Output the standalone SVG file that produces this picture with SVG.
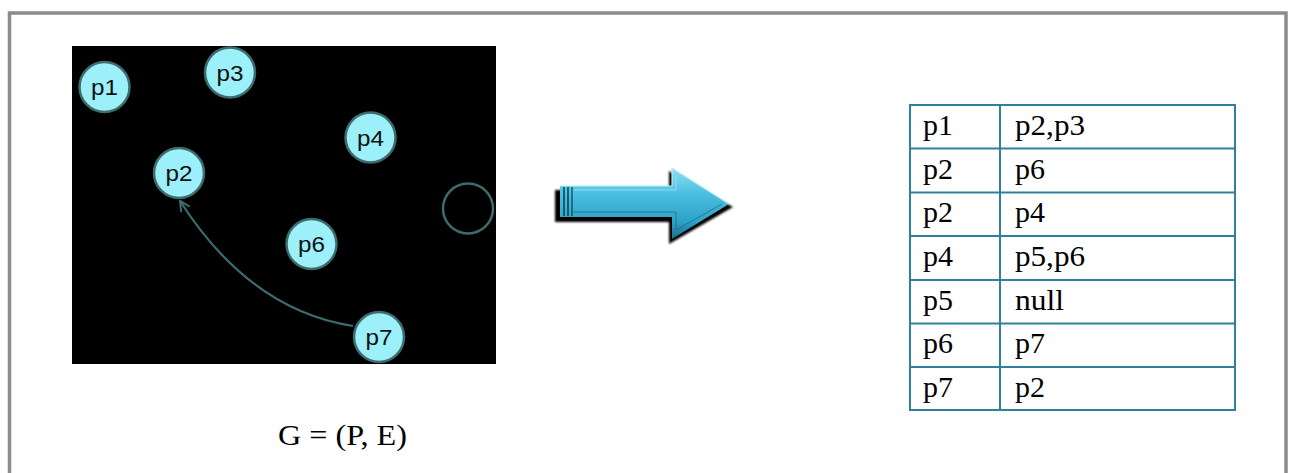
<svg xmlns="http://www.w3.org/2000/svg" width="1291" height="473" viewBox="0 0 1291 473">
<defs>
<style>
.node circle{fill:#9cf0fa;stroke:#3e6b6e;stroke-width:2.5}
.node text{font-family:"Liberation Sans",Arial,sans-serif;font-size:22px;fill:#111;text-anchor:middle}
.tl{stroke:#2f8099;stroke-width:2;fill:none}
.tt{font-family:"Liberation Serif","Times New Roman",serif;font-size:29px;fill:#000}
.edge{fill:none;stroke:#3e6b6e;stroke-width:2.2}
</style>
<marker id="chev" viewBox="0 0 12 12" refX="11" refY="6" markerWidth="12" markerHeight="12" markerUnits="userSpaceOnUse" orient="auto">
<path d="M1 1 L11 6 L1 11" fill="none" stroke="#3e6b6e" stroke-width="2"/>
</marker>
<linearGradient id="ag" x1="0" y1="0" x2="0" y2="1">
<stop offset="0" stop-color="#8ee0f4"/>
<stop offset="0.35" stop-color="#4cc0e0"/>
<stop offset="0.75" stop-color="#2ea3c8"/>
<stop offset="1" stop-color="#1c6f8c"/>
</linearGradient>
<filter id="blur" x="-10%" y="-20%" width="120%" height="140%"><feGaussianBlur stdDeviation="1.2"/></filter>
</defs>
<rect x="9.5" y="13" width="1276.5" height="520" fill="#fff" stroke="#8c8c8c" stroke-width="3.5"/>
<rect x="72" y="46" width="424" height="318" fill="#000"/>
<g id="connectors">
<path class="edge" d="M353 326 Q250 310 180 201" marker-end="url(#chev)"/>
</g>
<g id="p1" class="node"><circle cx="104.5" cy="87" r="25"/><text x="104.5" y="95" textLength="27" lengthAdjust="spacingAndGlyphs">p1</text></g>
<g id="p3" class="node"><circle cx="230" cy="72.5" r="25"/><text x="230" y="80.5" textLength="27" lengthAdjust="spacingAndGlyphs">p3</text></g>
<g id="p4" class="node"><circle cx="370.5" cy="137.5" r="25"/><text x="370.5" y="145.5" textLength="27" lengthAdjust="spacingAndGlyphs">p4</text></g>
<g id="p2" class="node"><circle cx="179" cy="173" r="25"/><text x="179" y="181" textLength="27" lengthAdjust="spacingAndGlyphs">p2</text></g>
<g id="p6" class="node"><circle cx="311.5" cy="244" r="25"/><text x="311.5" y="252" textLength="27" lengthAdjust="spacingAndGlyphs">p6</text></g>
<g id="p7" class="node"><circle cx="379" cy="337" r="25"/><text x="379" y="345" textLength="27" lengthAdjust="spacingAndGlyphs">p7</text></g>
<g id="p5"><circle cx="468" cy="208.5" r="25" fill="none" stroke="#3e6b6e" stroke-width="2.5"/></g>
<g id="bigarrow">
<path d="M555 190 H669 V171 L733 207 L669 244 V222 H555 Z" fill="#000" filter="url(#blur)"/>
<path d="M560 186 H672 V168 L729 204 L672 239 V217 H560 Z" fill="url(#ag)"/>
<path d="M560 186 H672 V168 L729 204" fill="none" stroke="#b5ecfa" stroke-width="1.2"/>
<path d="M573 190 H676 V177" fill="none" stroke="#a8e6f6" stroke-width="1" opacity="0.7"/>
<path d="M573 212 H676 V230 L722 204" fill="none" stroke="#1a6b88" stroke-width="1" opacity="0.8"/>
<line x1="564" y1="187" x2="564" y2="216" stroke="#0e3c4e" stroke-width="1.5"/>
<line x1="568" y1="187" x2="568" y2="216" stroke="#0e3c4e" stroke-width="1.5"/>
<line x1="572" y1="187" x2="572" y2="216" stroke="#0e3c4e" stroke-width="1.2"/>
</g>
<g id="graph-label"><text x="278" y="445" font-family="'Liberation Serif','Times New Roman',serif" font-size="30" textLength="129" lengthAdjust="spacingAndGlyphs">G = (P, E)</text></g>
<g id="table">
<rect class="tl" x="910" y="105" width="325" height="305"/>
<line class="tl" x1="1000" y1="105" x2="1000" y2="410"/>
<line class="tl" x1="910" y1="148.5" x2="1235" y2="148.5"/>
<line class="tl" x1="910" y1="192.5" x2="1235" y2="192.5"/>
<line class="tl" x1="910" y1="236" x2="1235" y2="236"/>
<line class="tl" x1="910" y1="280" x2="1235" y2="280"/>
<line class="tl" x1="910" y1="323.5" x2="1235" y2="323.5"/>
<line class="tl" x1="910" y1="367" x2="1235" y2="367"/>
<text class="tt" x="923" y="135" textLength="30" lengthAdjust="spacingAndGlyphs">p1</text>
<text class="tt" x="1015" y="135" textLength="70" lengthAdjust="spacingAndGlyphs">p2,p3</text>
<text class="tt" x="923" y="178.5" textLength="30" lengthAdjust="spacingAndGlyphs">p2</text>
<text class="tt" x="1015" y="178.5" textLength="30" lengthAdjust="spacingAndGlyphs">p6</text>
<text class="tt" x="923" y="222" textLength="30" lengthAdjust="spacingAndGlyphs">p2</text>
<text class="tt" x="1015" y="222" textLength="30" lengthAdjust="spacingAndGlyphs">p4</text>
<text class="tt" x="923" y="266" textLength="30" lengthAdjust="spacingAndGlyphs">p4</text>
<text class="tt" x="1015" y="266" textLength="70" lengthAdjust="spacingAndGlyphs">p5,p6</text>
<text class="tt" x="923" y="309.5" textLength="30" lengthAdjust="spacingAndGlyphs">p5</text>
<text class="tt" x="1015" y="309.5" textLength="49" lengthAdjust="spacingAndGlyphs">null</text>
<text class="tt" x="923" y="353" textLength="30" lengthAdjust="spacingAndGlyphs">p6</text>
<text class="tt" x="1015" y="353" textLength="30" lengthAdjust="spacingAndGlyphs">p7</text>
<text class="tt" x="923" y="396.5" textLength="30" lengthAdjust="spacingAndGlyphs">p7</text>
<text class="tt" x="1015" y="396.5" textLength="30" lengthAdjust="spacingAndGlyphs">p2</text>
</g>
</svg>
